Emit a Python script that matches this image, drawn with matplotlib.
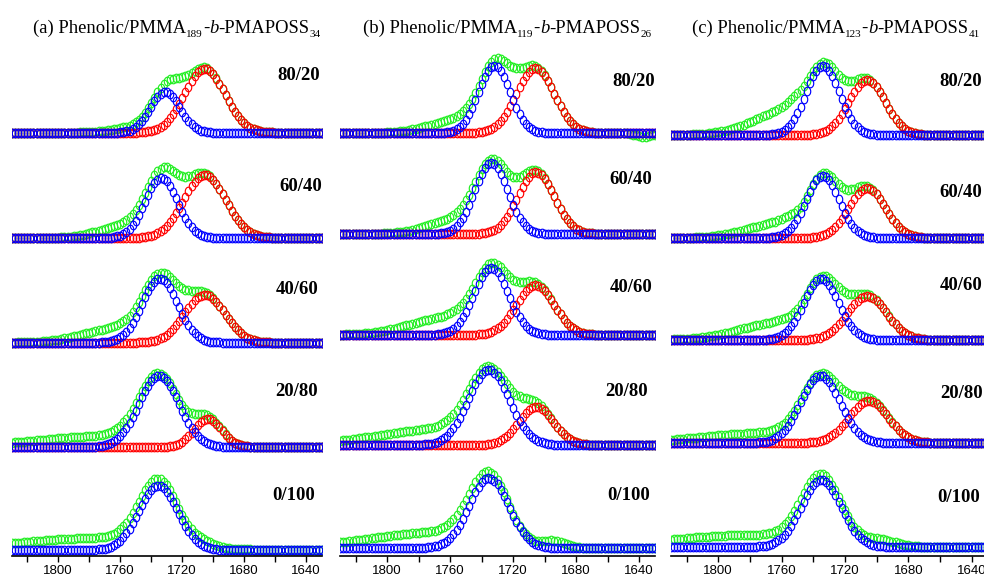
import numpy as np
import matplotlib
matplotlib.use("Agg")
import matplotlib.pyplot as plt
from matplotlib.ticker import FixedLocator
from matplotlib.path import Path

# ---------------- data ----------------
wn_start, wn_stop, wn_step = 1830, 1630, 2          # spectral sampling, cm-1
ratios = ["80/20", "60/40", "40/60", "20/80", "0/100"]
panel_tags = ["(a)", "(b)", "(c)"]
pmma_dp = ["189", "119", "123"]
poss_dp = ["34", "26", "41"]
tick_major = [1800, 1760, 1720, 1680, 1640]
tick_minor = [1820, 1780, 1740, 1700, 1660]

# free C=O band (blue), rows = ratios, one list per panel
free_center = [[1731, 1733.5, 1734.5, 1735, 1735.5],
               [1732, 1734, 1734, 1735.5, 1735.5],
               [1734, 1734, 1735, 1735.5, 1735]]
free_height = [[41, 60, 64, 71, 64],
               [67, 71, 67, 75, 70],
               [69, 62, 61, 67, 67]]
free_width = [[9.5, 10.5, 11.5, 13, 12.5],
              [10, 10.5, 11, 13, 12.5],
              [10.5, 10.5, 11, 12.5, 12.5]]
# hydrogen-bonded C=O band (red)
hb_center = [[1705.5, 1705.5, 1705.5, 1703.5, 1705],
             [1706, 1705.5, 1706, 1705.5, 1705],
             [1706, 1706, 1706, 1705, 1705]]
hb_height = [[64, 63, 48, 28, 0],
             [65, 62, 50, 38, 0],
             [55, 50, 44, 42, 0]]
hb_width = [[13, 13.5, 13, 9, 10],
            [12, 11.5, 12, 11, 10],
            [11.5, 11.5, 12.5, 12.5, 10]]
# extra absorbance in the measured spectrum (green): high-wavenumber shoulder
sh_center = [[1752, 1758, 1762, 1768, 1775],
             [1755, 1756, 1760, 1765, 1765],
             [1755, 1758, 1762, 1770, 1780]]
sh_height = [[5, 12, 14, 11, 12],
             [13, 14, 18, 16, 16],
             [25, 16, 17, 10, 12]]
sh_width_hi = [[14, 16, 22, 45, 50],
               [18, 18, 25, 40, 45],
               [22, 22, 25, 40, 50]]
sh_width_lo = [[8, 14, 14, 20, 40],
               [10, 10, 12, 16, 22],
               [8, 7, 9, 14, 40]]
# small residual feature on the low-wavenumber side of the measured spectrum
res_center = [[1700, 1700, 1700, 1700, 1706],
              [1637, 1700, 1700, 1700, 1695],
              [1700, 1700, 1700, 1700, 1697]]
res_height = [[0, 0, 0, 0, 4],
              [-4, 0, 0, 0, 7],
              [0, 0, 0, 0, 6]]
res_width = [[8, 8, 8, 8, 8],
             [5, 8, 8, 8, 8],
             [8, 8, 8, 8, 9]]

# ---------------- layout ----------------
W, H = 984, 577
spine_y = 555.7
panel_x = [(11.7, 321.7), (340.0, 655.0), (670.7, 987.5)]
baselines = [[423, 317.7, 213, 108.7, 5.7],
             [422.7, 321.7, 220.7, 110.7, 7.7],
             [420.7, 317.7, 215.7, 112.7, 8.7]]
title_pos = [(33, 33), (363, 33), (692, 33)]
label_pos = [[(320, 76), (322, 187), (318, 290), (318, 391), (315, 496)],
             [(655, 81), (652, 179), (652, 287), (648, 392), (650, 496)],
             [(982, 81), (982, 192), (982, 286), (983, 394), (980, 497)]]

GREEN, RED, BLUE = '#22EE22', '#FF0000', '#0000FF'

_t = np.linspace(0, 2 * np.pi, 41)
ELLIPSE = Path(np.column_stack([0.75 * np.cos(_t), np.sin(_t)]), closed=True)


def gauss(x, c, h, s):
    return h * np.exp(-(x - c) ** 2 / (2 * s ** 2))


def agauss(x, c, h, s_hi, s_lo):
    s = np.where(x >= c, s_hi, s_lo)
    return h * np.exp(-(x - c) ** 2 / (2 * s ** 2))


fig = plt.figure(figsize=(W / 100, H / 100), dpi=100)
renderer = fig.canvas.get_renderer()
wn = np.arange(wn_start, wn_stop - 0.5 * wn_step, -wn_step, dtype=float)

mk = dict(marker=ELLIPSE, linestyle='none', markerfacecolor='none',
          markersize=6.2, markeredgewidth=0.85)

MAIN, SUB = 13.4, 8.0


def place_title(x_px, y_px, pieces, max_right=982):
    texts = []
    x = x_px
    for txt, size, style, dy in pieces:
        t = fig.text(x / W, 1 - (y_px + dy) / H, txt, fontsize=size,
                     fontstyle=style, family='Liberation Serif',
                     ha='left', va='baseline')
        x += t.get_window_extent(renderer).width
        texts.append(t)
    if x > max_right:
        shift = (x - max_right) / W
        for t in texts:
            px, py = t.get_position()
            t.set_position((px - shift, py))


for p in range(3):
    x0, x1 = panel_x[p]
    ax = fig.add_axes([x0 / W, (H - spine_y) / H, (x1 - x0) / W, spine_y / H])
    ax.set_xlim(1830, 1630)
    ax.set_ylim(0, spine_y)
    for r in range(5):
        base = baselines[p][r]
        free = gauss(wn, free_center[p][r], free_height[p][r], free_width[p][r])
        hb = gauss(wn, hb_center[p][r], hb_height[p][r], hb_width[p][r])
        sh = agauss(wn, sh_center[p][r], sh_height[p][r],
                    sh_width_hi[p][r], sh_width_lo[p][r])
        res = gauss(wn, res_center[p][r], res_height[p][r], res_width[p][r])
        total = free + hb + sh + res
        ax.plot(wn, base + total, color=GREEN, markeredgecolor=GREEN, **mk)
        if hb_height[p][r] > 0:
            ax.plot(wn, base + hb, color=RED, markeredgecolor=RED, **mk)
        ax.plot(wn, base + free, color=BLUE, markeredgecolor=BLUE, **mk)
    for s in ['left', 'right', 'top']:
        ax.spines[s].set_visible(False)
    ax.spines['bottom'].set_linewidth(1.2)
    ax.set_yticks([])
    ax.xaxis.set_major_locator(FixedLocator(tick_major))
    ax.xaxis.set_minor_locator(FixedLocator(tick_minor))
    ax.tick_params(axis='x', which='both', direction='out', length=4.5,
                   width=1.0, pad=2.5, labelsize=9.5)
    for lab in ax.get_xticklabels():
        lab.set_fontfamily('Liberation Sans')
    ax.patch.set_visible(False)

    tx, ty = title_pos[p]
    place_title(tx, ty, [(panel_tags[p] + " Phenolic/PMMA", MAIN, 'normal', 0),
                         (pmma_dp[p], SUB, 'normal', 4),
                         ("-", MAIN, 'normal', 0),
                         ("b", MAIN, 'italic', 0),
                         ("-PMAPOSS", MAIN, 'normal', 0),
                         (poss_dp[p], SUB, 'normal', 4)])
    for r in range(5):
        lx, ly = label_pos[p][r]
        fig.text(lx / W, 1 - ly / H, ratios[r], fontsize=13.5,
                 family='Liberation Serif', fontweight='bold',
                 ha='right', va='center')

fig.savefig('out.png', dpi=100)
